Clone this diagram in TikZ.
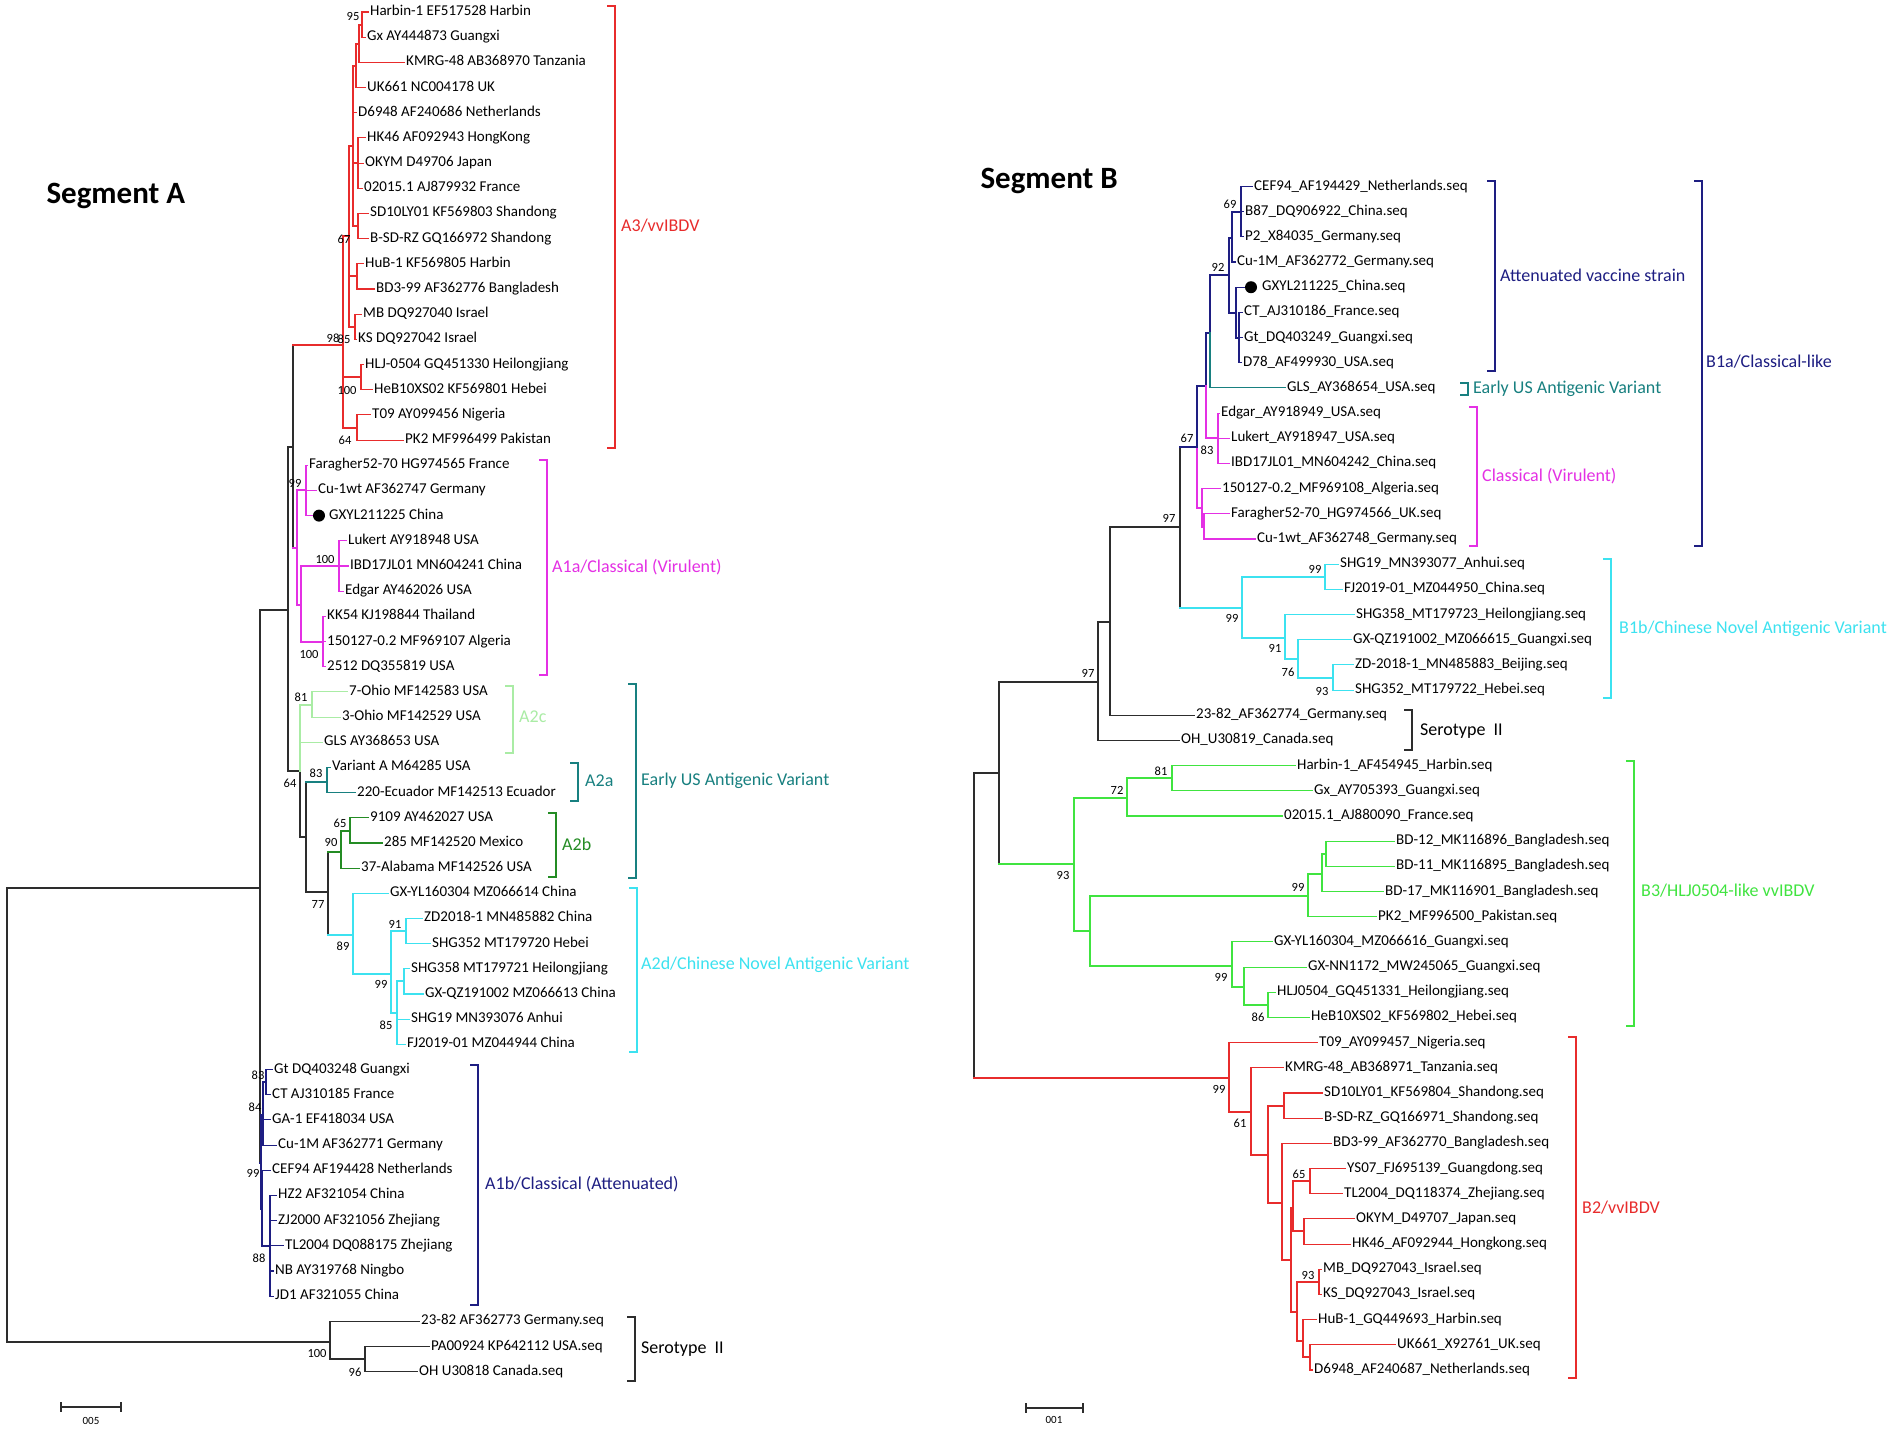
\documentclass[tikz,border=0pt]{standalone}
\usepackage{fontspec}
\setmainfont{Carlito}
\definecolor{cDark}{RGB}{45,45,45}
\definecolor{cRed}{RGB}{232,44,44}
\definecolor{cMag}{RGB}{228,48,228}
\definecolor{cLGreen}{RGB}{170,236,165}
\definecolor{cTeal}{RGB}{24,128,128}
\definecolor{cGreen}{RGB}{36,140,36}
\definecolor{cCyan}{RGB}{60,226,240}
\definecolor{cNavy}{RGB}{30,30,130}
\definecolor{cBGreen}{RGB}{64,228,64}
\newcommand{\labfont}{\fontsize{15}{15}\selectfont}
\newcommand{\bsfont}{\fontsize{12.5}{12.5}\selectfont}
\newcommand{\cladefont}{\fontsize{18}{18}\selectfont}
\begin{document}
\begin{tikzpicture}[x=1pt,y=-1pt,
	br/.style={line width=1.1pt,line cap=rect,draw=cDark},
	brk/.style={line width=1.3pt},
	leaf/.style={anchor=west,inner xsep=2pt,inner ysep=0pt,text height=10pt,text depth=3pt,font=\labfont},
	bs/.style={inner sep=0pt,font=\bsfont},
	clade/.style={anchor=west,inner sep=0pt,font=\cladefont},
	dotmark/.style={circle,fill=black,inner sep=0pt,minimum size=12pt},
	]
	%Page
	\path[use as bounding box,fill=white] (0,0) rectangle (1902,1433);
	%Titles
	\node[anchor=base west,font=\fontsize{31}{31}\selectfont\bfseries] (titleA) at (43,203) {Segment A};
	\node[anchor=base west,font=\fontsize{31}{31}\selectfont\bfseries] (titleB) at (977,188) {Segment B};
	%%%%%%%%%%%%%%%% Segment A %%%%%%%%%%%%%%%%
	%Leaves (end of branch / row)
	\foreach \n/\x/\rw/\txt in {a1/368/1/Harbin-1 EF517528 Harbin, a2/365/2/Gx AY444873 Guangxi,
		a3/404/3/KMRG-48 AB368970 Tanzania, a4/365/4/UK661 NC004178 UK,
		a5/356/5/D6948 AF240686 Netherlands, a6/365/6/HK46 AF092943 HongKong,
		a7/363/7/OKYM D49706 Japan, a8/362/8/02015.1 AJ879932 France,
		a9/368/9/SD10LY01 KF569803 Shandong, a10/368/10/B-SD-RZ GQ166972 Shandong,
		a11/363/11/HuB-1 KF569805 Harbin, a12/374/12/BD3-99 AF362776 Bangladesh,
		a13/361/13/MB DQ927040 Israel, a14/356/14/KS DQ927042 Israel,
		a15/363/15/HLJ-0504 GQ451330 Heilongjiang, a16/372/16/HeB10XS02 KF569801 Hebei,
		a17/370/17/T09 AY099456 Nigeria, a18/403/18/PK2 MF996499 Pakistan,
		b1/307/19/Faragher52-70 HG974565 France, b2/316/20/Cu-1wt AF362747 Germany,
		b3/327/21/GXYL211225 China, b4/346/22/Lukert AY918948 USA,
		b5/348/23/IBD17JL01 MN604241 China, b6/343/24/Edgar AY462026 USA,
		b7/325/25/KK54 KJ198844 Thailand, b8/325/26/150127-0.2 MF969107 Algeria,
		b9/325/27/2512 DQ355819 USA, c1/347/28/7-Ohio MF142583 USA,
		c2/340/29/3-Ohio MF142529 USA, c3/322/30/GLS AY368653 USA,
		d1/330/31/Variant A M64285 USA, d2/355/32/220-Ecuador MF142513 Ecuador,
		e1/368/33/9109 AY462027 USA, e2/382/34/285 MF142520 Mexico,
		e3/359/35/37-Alabama MF142526 USA, f1/388/36/GX-YL160304 MZ066614 China,
		f2/422/37/ZD2018-1 MN485882 China, f3/430/38/SHG352 MT179720 Hebei,
		f4/409/39/SHG358 MT179721 Heilongjiang, f5/423/40/GX-QZ191002 MZ066613 China,
		f6/409/41/SHG19 MN393076 Anhui, f7/405/42/FJ2019-01 MZ044944 China,
		g1/272/43/Gt DQ403248 Guangxi, g2/270/44/CT AJ310185 France,
		g3/270/45/GA-1 EF418034 USA, g4/276/46/Cu-1M AF362771 Germany,
		g5/270/47/CEF94 AF194428 Netherlands, g6/276/48/HZ2 AF321054 China,
		g7/276/49/ZJ2000 AF321056 Zhejiang, g8/283/50/TL2004 DQ088175 Zhejiang,
		g9/273/51/NB AY319768 Ningbo, g10/273/52/JD1 AF321055 China,
		h1/419/53/23-82 AF362773 Germany.seq, h2/429/54/PA00924 KP642112 USA.seq,
		h3/417/55/OH U30818 Canada.seq} {
		\node[leaf] (\n) at (\x,{12+25.18*(\rw-1)}) {\txt};
	}
	\node[dotmark] (dotA) at (319,{12+25.18*20}) {};
	%Inner nodes
	\foreach \n/\x/\y in {rootA/7/1115, L1/260/888, L2/288/610, L3/293/447, nA3/343/345,
		nA3u/349/236, nG4/353/146, nG3/356/66, nG2/359/44, nG1/362/25, nHK/358/163,
		nSD/358/226, nHuB/357/276, nMB/355/327, nHLJ/361/377, nT09/357/428,
		nA1a/297/548, nA1a99/306/490, nA1aL/301/605, nLuk/339/566, nKK/323/642,
		L4/300/771, nA2c81/312/705, L5/306/837, nA2a/327/782, L6/328/892,
		nA2b/341/852, nA2b65/350/831, nA2d/353/935, nA2d99/391/974, nA2d91/406/931,
		nA2d85/397/1013, nSHG358/404/981, nA1b/261/1163, nA1bU/263/1115, n83/266/1082,
		nA1bL/262/1209, nTL/264/1246, nHZ/270/1246, s1/330/1342, s2/365/1359} {
		\coordinate (\n) at (\x,\y);
	}
	%Branches
	\foreach \pa/\ch in {rootA/L1, rootA/s1, L1/L2, L1/nA1b, L2/L3, L2/L4, L3/nA3, L3/nA1a,
		L4/L5, L5/nA2a, L5/L6, L6/nA2b, L6/nA2d, s1/h1, s1/s2, s2/h2, s2/h3}
		\draw[br] (\pa) |- (\ch);
	\foreach \pa/\ch in {nA3/nA3u, nA3/nHLJ, nA3/nT09, nA3u/nG4, nA3u/nHuB, nA3u/nMB,
		nG4/nG3, nG4/a5, nG4/nHK, nG4/nSD, nG3/nG2, nG3/a4, nG2/nG1, nG2/a3, nG1/a1, nG1/a2,
		nHK/a6, nHK/a7, nHK/a8, nSD/a9, nSD/a10, nHuB/a11, nHuB/a12, nMB/a13, nMB/a14,
		nHLJ/a15, nHLJ/a16, nT09/a17, nT09/a18}
		\draw[br,draw=cRed] (\pa) |- (\ch);
	\foreach \pa/\ch in {nA1a/nA1a99, nA1a/nA1aL, nA1a99/b1, nA1a99/b2, nA1a99/dotA,
		nA1aL/nLuk, nA1aL/nKK, nLuk/b4, nLuk/b5, nLuk/b6, nKK/b7, nKK/b8, nKK/b9}
		\draw[br,draw=cMag] (\pa) |- (\ch);
	\foreach \pa/\ch in {L4/nA2c81, L4/c3, nA2c81/c1, nA2c81/c2}
		\draw[br,draw=cLGreen] (\pa) |- (\ch);
	\foreach \pa/\ch in {nA2a/d1, nA2a/d2}
		\draw[br,draw=cTeal] (\pa) |- (\ch);
	\foreach \pa/\ch in {nA2b/nA2b65, nA2b/e3, nA2b65/e1, nA2b65/e2}
		\draw[br,draw=cGreen] (\pa) |- (\ch);
	\foreach \pa/\ch in {nA2d/f1, nA2d/nA2d99, nA2d99/nA2d91, nA2d99/nA2d85, nA2d91/f2,
		nA2d91/f3, nA2d85/nSHG358, nA2d85/f6, nA2d85/f7, nSHG358/f4, nSHG358/f5}
		\draw[br,draw=cCyan] (\pa) |- (\ch);
	\foreach \pa/\ch in {nA1b/nA1bU, nA1b/nA1bL, nA1bU/n83, nA1bU/g3, nA1bU/g4, n83/g1,
		n83/g2, nA1bL/g5, nA1bL/nTL, nTL/g8, nTL/nHZ, nHZ/g6, nHZ/g7, nHZ/g9, nHZ/g10}
		\draw[br,draw=cNavy] (\pa) |- (\ch);
	%Coloured stems
	\draw[br,draw=cRed] (L3 |- nA3) -- (nA3);
	\draw[br,draw=cMag] (L3 |- nA1a) -- (nA1a);
	\draw[br,draw=cTeal] (L5 |- nA2a) -- (nA2a);
	\draw[br,draw=cGreen] (L6 |- nA2b) -- (nA2b);
	\draw[br,draw=cCyan] (L6 |- nA2d) -- (nA2d);
	\draw[br,draw=cNavy] (L1 |- nA1b) -- (nA1b);
	%Bootstrap values
	\foreach \n/\x/\y/\v in {bA1/353/16/95, bA2/344/239/67, bA3/333/338/98, bA4/344/339/85,
		bA5/347/390/100, bA6/345/440/64, bA7/295/483/99, bA8/325/559/100, bA9/309/654/100,
		bA10/301/697/81, bA11/290/783/64, bA12/316/773/83, bA13/340/823/65, bA14/331/842/90,
		bA15/318/904/77, bA16/395/924/91, bA17/343/946/89, bA18/381/984/99, bA19/386/1025/85,
		bA20/258/1075/83, bA21/255/1107/84, bA22/253/1173/99, bA23/259/1258/88,
		bA24/317/1353/100, bA25/355/1372/96} {
		\node[bs] (\n) at (\x,\y) {\v};
	}
	%%%%%%%%%%%%%%%% Segment B %%%%%%%%%%%%%%%%
	%Leaves
	\foreach \n/\x/\rw/\txt in {p1/1252/1/CEF94\_AF194429\_Netherlands.seq,
		p2/1243/2/B87\_DQ906922\_China.seq, p3/1243/3/P2\_X84035\_Germany.seq,
		p4/1235/4/Cu-1M\_AF362772\_Germany.seq, p5/1260/5/GXYL211225\_China.seq,
		p6/1242/6/CT\_AJ310186\_France.seq, p7/1242/7/Gt\_DQ403249\_Guangxi.seq,
		p8/1241/8/D78\_AF499930\_USA.seq, p9/1285/9/GLS\_AY368654\_USA.seq,
		p10/1219/10/Edgar\_AY918949\_USA.seq, p11/1229/11/Lukert\_AY918947\_USA.seq,
		p12/1229/12/IBD17JL01\_MN604242\_China.seq, p13/1220/13/150127-0.2\_MF969108\_Algeria.seq,
		p14/1229/14/Faragher52-70\_HG974566\_UK.seq, p15/1255/15/Cu-1wt\_AF362748\_Germany.seq,
		p16/1338/16/SHG19\_MN393077\_Anhui.seq, p17/1342/17/FJ2019-01\_MZ044950\_China.seq,
		p18/1354/18/SHG358\_MT179723\_Heilongjiang.seq, p19/1351/19/GX-QZ191002\_MZ066615\_Guangxi.seq,
		p20/1353/20/ZD-2018-1\_MN485883\_Beijing.seq, p21/1353/21/SHG352\_MT179722\_Hebei.seq,
		p22/1194/22/23-82\_AF362774\_Germany.seq, p23/1179/23/OH\_U30819\_Canada.seq,
		p24/1295/24/Harbin-1\_AF454945\_Harbin.seq, p25/1312/25/Gx\_AY705393\_Guangxi.seq,
		p26/1282/26/02015.1\_AJ880090\_France.seq, p27/1394/27/BD-12\_MK116896\_Bangladesh.seq,
		p28/1394/28/BD-11\_MK116895\_Bangladesh.seq, p29/1383/29/BD-17\_MK116901\_Bangladesh.seq,
		p30/1376/30/PK2\_MF996500\_Pakistan.seq, p31/1272/31/GX-YL160304\_MZ066616\_Guangxi.seq,
		p32/1306/32/GX-NN1172\_MW245065\_Guangxi.seq, p33/1275/33/HLJ0504\_GQ451331\_Heilongjiang.seq,
		p34/1309/34/HeB10XS02\_KF569802\_Hebei.seq, p35/1317/35/T09\_AY099457\_Nigeria.seq,
		p36/1283/36/KMRG-48\_AB368971\_Tanzania.seq, p37/1322/37/SD10LY01\_KF569804\_Shandong.seq,
		p38/1322/38/B-SD-RZ\_GQ166971\_Shandong.seq, p39/1331/39/BD3-99\_AF362770\_Bangladesh.seq,
		p40/1345/40/YS07\_FJ695139\_Guangdong.seq, p41/1342/41/TL2004\_DQ118374\_Zhejiang.seq,
		p42/1354/42/OKYM\_D49707\_Japan.seq, p43/1350/43/HK46\_AF092944\_Hongkong.seq,
		p44/1321/44/MB\_DQ927043\_Israel.seq, p45/1321/45/KS\_DQ927043\_Israel.seq,
		p46/1316/46/HuB-1\_GQ449693\_Harbin.seq, p47/1395/47/UK661\_X92761\_UK.seq,
		p48/1312/48/D6948\_AF240687\_Netherlands.seq} {
		\node[leaf] (\n) at (\x,{186.5+25.18*(\rw-1)}) {\txt};
	}
	\node[dotmark] (dotB) at (1251,{186.5+25.18*4}) {};
	%Inner nodes
	\foreach \n/\x/\y in {rootB/974/925, R1/999/773, R2/1098/682, R3/1110/622, R4/1180/527,
		R5/1197/447, R6/1206/386, R7/1210/333, R9/1229/275, R10/1232/238, n69/1241/212,
		R11/1236/313, nCT/1239/338, nEd/1218/438, R8/1202/508, nFar/1204/527,
		nB1b/1242/608, nB1b99/1325/577, nB1b91/1285/638, nB1b76/1298/659, nB1b93/1333/678,
		nB3/1074/864, n72/1127/798, n81/1172/778, nB3L/1090/931, n99a/1308/896,
		nBD/1322/874, nBD12/1326/854, n99c/1232/966, n98/1244/987, n86/1268/1005,
		nB2/1229/1078, n61/1251/1112, nB2a/1268/1155, nSD2/1284/1106, nB2b/1282/1203,
		nB2c/1291/1260, nYO/1293/1208, n65/1310/1181, nOK/1304/1231, nMB2/1297/1312,
		n93/1319/1282, nHuB2/1303/1341, nUK/1310/1357} {
		\coordinate (\n) at (\x,\y);
	}
	%Branches
	\foreach \pa/\ch in {rootB/R1, rootB/nB2, R1/R2, R1/nB3, R2/R3, R2/p23, R3/R4, R3/p22,
		R4/R5, R4/nB1b}
		\draw[br] (\pa) |- (\ch);
	\foreach \pa/\ch in {R5/R6, R6/R7, R7/R9, R9/R10, R9/R11, R10/n69, R10/p4, n69/p1,
		n69/p2, n69/p3, R11/dotB, R11/nCT, nCT/p6, nCT/p7, nCT/p8}
		\draw[br,draw=cNavy] (\pa) |- (\ch);
	\draw[br,draw=cTeal] (R7) |- (p9);
	\foreach \pa/\ch in {R5/R8, R6/nEd, nEd/p10, nEd/p11, nEd/p12, R8/p13, R8/nFar,
		nFar/p14, nFar/p15}
		\draw[br,draw=cMag] (\pa) |- (\ch);
	\foreach \pa/\ch in {nB1b/nB1b99, nB1b/nB1b91, nB1b99/p16, nB1b99/p17, nB1b91/p18,
		nB1b91/nB1b76, nB1b76/p19, nB1b76/nB1b93, nB1b93/p20, nB1b93/p21}
		\draw[br,draw=cCyan] (\pa) |- (\ch);
	\foreach \pa/\ch in {nB3/n72, nB3/nB3L, n72/n81, n72/p26, n81/p24, n81/p25, nB3L/n99a,
		nB3L/n99c, n99a/nBD, n99a/p30, nBD/nBD12, nBD/p29, nBD12/p27, nBD12/p28, n99c/p31,
		n99c/n98, n98/p32, n98/n86, n86/p33, n86/p34}
		\draw[br,draw=cBGreen] (\pa) |- (\ch);
	\foreach \pa/\ch in {nB2/p35, nB2/n61, n61/p36, n61/nB2a, nB2a/nSD2, nB2a/nB2b,
		nSD2/p37, nSD2/p38, nB2b/p39, nB2b/nB2c, nB2c/nYO, nB2c/nMB2, nYO/n65, nYO/nOK,
		n65/p40, n65/p41, nOK/p42, nOK/p43, nMB2/n93, nMB2/nHuB2, n93/p44, n93/p45,
		nHuB2/p46, nHuB2/nUK, nUK/p47, nUK/p48}
		\draw[br,draw=cRed] (\pa) |- (\ch);
	%Coloured stems
	\draw[br,draw=cRed] (rootB |- nB2) -- (nB2);
	\draw[br,draw=cBGreen] (R1 |- nB3) -- (nB3);
	\draw[br,draw=cNavy] (R4 |- R5) -- (R5);
	\draw[br,draw=cCyan] (R4 |- nB1b) -- (nB1b);
	%Bootstrap values
	\foreach \n/\x/\y/\v in {bB1/1230/204/69, bB2/1218/267/92, bB3/1187/438/67,
		bB4/1207/450/83, bB5/1169/518/97, bB6/1088/673/97, bB7/1232/618/99, bB8/1315/569/99,
		bB9/1275/648/91, bB10/1288/672/76, bB11/1322/691/93, bB12/1063/875/93,
		bB13/1117/790/72, bB14/1161/771/81, bB15/1298/887/99, bB16/1221/977/99,
		bB17/1258/1017/86, bB18/1219/1089/99, bB19/1240/1123/61, bB20/1299/1174/65,
		bB21/1308/1275/93} {
		\node[bs] (\n) at (\x,\y) {\v};
	}
	%%%%%%%%%%%%%%%% Clade brackets %%%%%%%%%%%%%%%%
	\foreach \n/\x/\tp/\bt/\col in {brA3/615/6/448/cRed, brA1a/547/460/675/cMag,
		brA2c/513/686/753/cLGreen, brA2a/578/763/801/cTeal, brA2b/556/813/877/cGreen,
		brEarlyA/636/684/878/cTeal, brA2d/637/888/1052/cCyan, brA1b/478/1065/1305/cNavy,
		brSerA/635/1317/1381/cDark, brAtt/1495/181/371/cNavy, brEarlyB/1468/383/395/cTeal,
		brClass/1477/407/546/cMag, brB1a/1702/181/546/cNavy, brB1b/1611/559/698/cCyan,
		brSerB/1412/710/750/cDark, brB3/1634/761/1026/cBGreen, brB2/1576/1037/1378/cRed} {
		\coordinate (\n-t) at (\x,\tp);
		\coordinate (\n-b) at (\x,\bt);
		\draw[brk,draw=\col] ([xshift=-8pt]\n-t) -- (\n-t) -- (\n-b) -- ([xshift=-8pt]\n-b);
	}
	%Clade names
	\node[clade,text=cRed] (tA3) at (621,226) {A3/vvIBDV};
	\node[clade,text=cMag] (tA1a) at (552,567) {A1a/Classical (Virulent)};
	\node[clade,text=cLGreen] (tA2c) at (519,717) {A2c};
	\node[clade,text=cTeal] (tA2a) at (585,781) {A2a};
	\node[clade,text=cGreen] (tA2b) at (562,844) {A2b};
	\node[clade,text=cTeal] (tEarlyA) at (641,781) {Early US Antigenic Variant};
	\node[clade,text=cCyan] (tA2d) at (641,965) {A2d/Chinese Novel Antigenic Variant};
	\node[clade,text=cNavy] (tA1b) at (485,1184) {A1b/Classical (Attenuated)};
	\node[clade] (tSerA) at (641,1349) {Serotype\hspace{8pt}II};
	\node[clade,text=cNavy] (tAtt) at (1500,275) {Attenuated vaccine strain};
	\node[clade,text=cTeal] (tEarlyB) at (1473,389) {Early US Antigenic Variant};
	\node[clade,text=cMag] (tClass) at (1482,476) {Classical (Virulent)};
	\node[clade,text=cNavy] (tB1a) at (1706,362) {B1a/Classical-like};
	\node[clade,text=cCyan] (tB1b) at (1619,629) {B1b/Chinese Novel Antigenic Variant};
	\node[clade] (tSerB) at (1420,731) {Serotype\hspace{8pt}II};
	\node[clade,text=cBGreen] (tB3) at (1641,891) {B3/HLJ0504-like vvIBDV};
	\node[clade,text=cRed] (tB2) at (1582,1208) {B2/vvIBDV};
	%Scale bars
	\coordinate (sbA0) at (61,1407);
	\coordinate (sbA1) at (121,1407);
	\draw[br] ([yshift=4pt]sbA0) -- ([yshift=-4pt]sbA0);
	\draw[br] (sbA0) -- (sbA1);
	\draw[br] ([yshift=4pt]sbA1) -- ([yshift=-4pt]sbA1);
	\node[bs,font=\fontsize{11}{11}\selectfont] (sbAtext) at (91,1421) {005};
	\coordinate (sbB0) at (1026,1408);
	\coordinate (sbB1) at (1083,1408);
	\draw[br] ([yshift=4pt]sbB0) -- ([yshift=-4pt]sbB0);
	\draw[br] (sbB0) -- (sbB1);
	\draw[br] ([yshift=4pt]sbB1) -- ([yshift=-4pt]sbB1);
	\node[bs,font=\fontsize{11}{11}\selectfont] (sbBtext) at (1054,1420) {001};
\end{tikzpicture}
\end{document}
